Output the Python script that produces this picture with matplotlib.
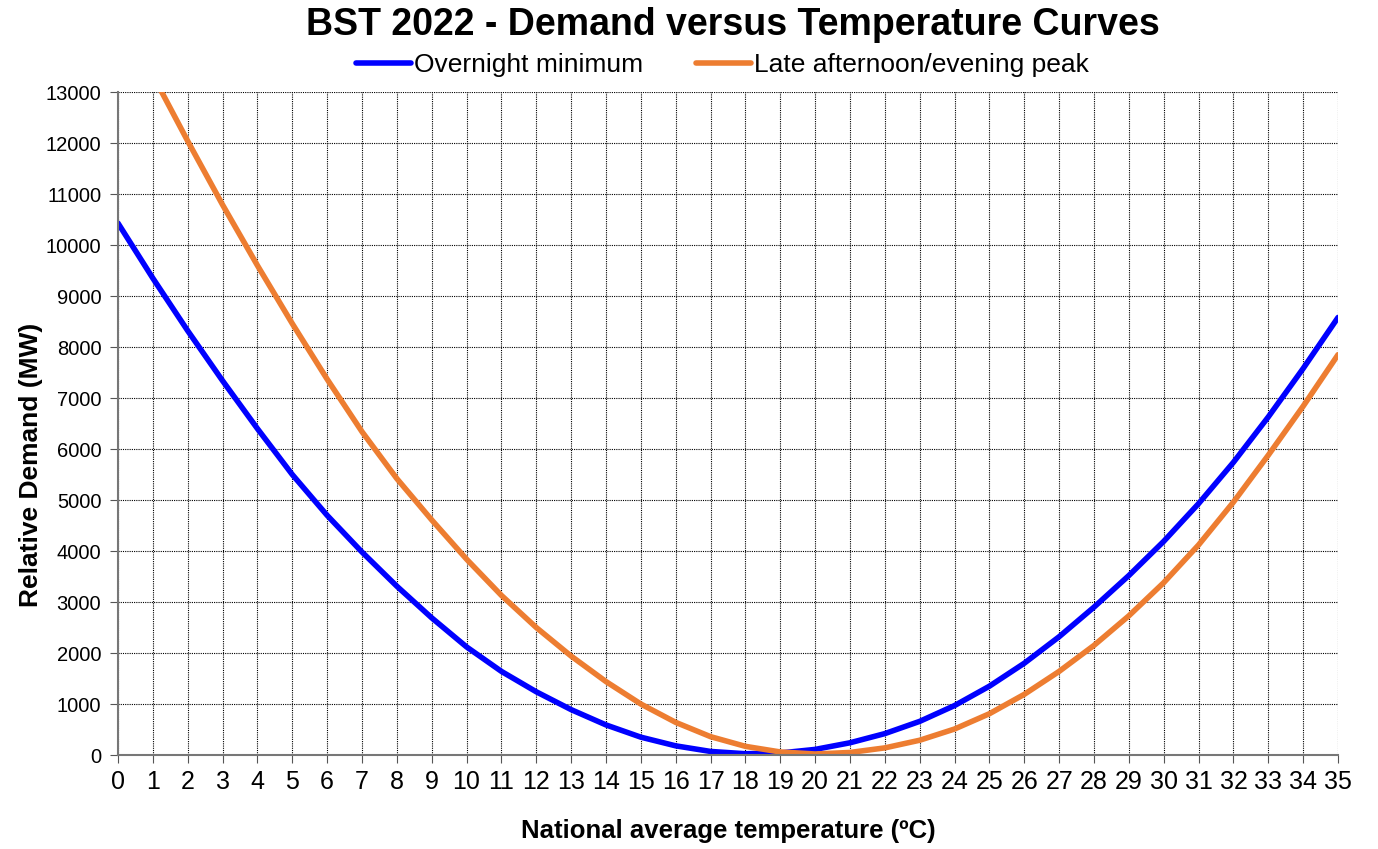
import matplotlib.pyplot as plt

plt.rcParams['font.family'] = ['Liberation Sans', 'DejaVu Sans']

# temperatura (ºC) y demanda relativa (MW)
temperatura = list(range(0, 36))
overnight_min = [10430, 9350, 8320, 7340, 6400, 5500, 4700, 3980, 3310, 2690,
                 2120, 1640, 1240, 890, 590, 350, 180, 70, 25, 40,
                 110, 240, 420, 660, 970, 1350, 1800, 2320, 2900, 3520,
                 4190, 4930, 5740, 6630, 7580, 8580]
late_peak = [14700, 13330, 12040, 10790, 9600, 8460, 7370, 6340, 5420, 4610,
             3840, 3130, 2500, 1940, 1440, 1000, 640, 360, 170, 60,
             20, 50, 140, 290, 510, 810, 1190, 1640, 2150, 2730,
             3380, 4120, 4960, 5880, 6840, 7850]

etiquetas = ['Overnight minimum', 'Late afternoon/evening peak']
colores = ['#0000ff', '#ed7d31']

fig = plt.figure(figsize=(13.78, 8.49), dpi=100)
ax = fig.add_axes([0.0856, 0.1107, 0.8854, 0.7809])

ax.plot(temperatura, overnight_min, color=colores[0], lw=4, label=etiquetas[0],
        solid_capstyle='round', solid_joinstyle='round')
ax.plot(temperatura, late_peak, color=colores[1], lw=4, label=etiquetas[1],
        solid_capstyle='round', solid_joinstyle='round')

ax.set_xlim(0, 35)
ax.set_ylim(0, 13000)
ax.set_xticks(range(0, 36))
ax.set_yticks(range(0, 13001, 1000))
ax.tick_params(axis='x', labelsize=18, length=6, color='#555555', pad=5)
ax.tick_params(axis='y', labelsize=14.5, length=6, color='#555555', pad=6)

ax.grid(True, color='black', linestyle=(0, (1, 1)), linewidth=0.8)
for lado in ['top', 'right']:
    ax.spines[lado].set_visible(False)
for lado in ['left', 'bottom']:
    ax.spines[lado].set_color('#777777')
    ax.spines[lado].set_linewidth(1.5)

ax.set_xlabel('National average temperature (ºC)', fontsize=18.5, fontweight='bold', labelpad=18)
ax.set_ylabel('Relative Demand (MW)', fontsize=19, fontweight='bold')
ax.yaxis.set_label_coords(-0.0615, 0.437)

fig.text(0.532, 0.9706, 'BST 2022 - Demand versus Temperature Curves', fontsize=27,
         fontweight='bold', ha='center', va='center')
fig.legend(loc='center', bbox_to_anchor=(0.524, 0.9234), ncol=2, frameon=False,
           fontsize=19, handlelength=2.1, columnspacing=2.0, handletextpad=0.1)

fig.savefig('out.png', dpi=100)
